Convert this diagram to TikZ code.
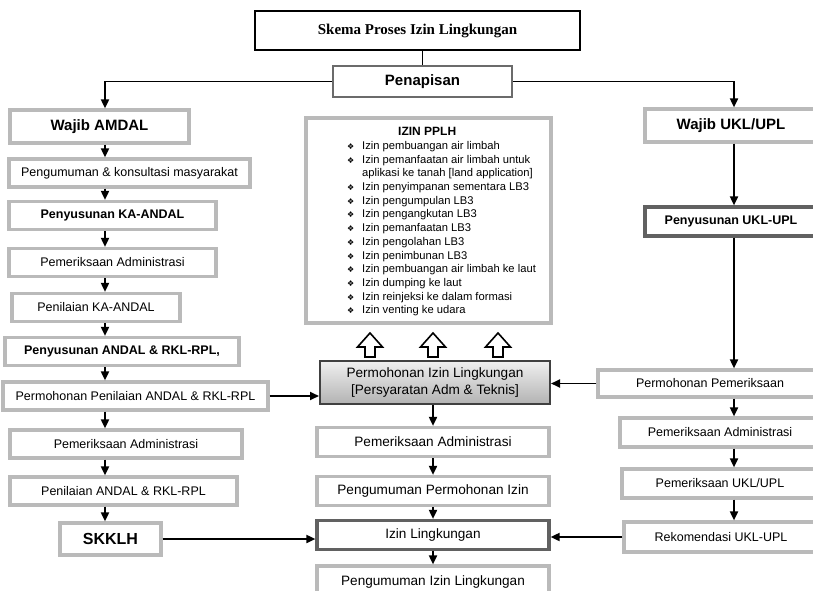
\documentclass[tikz,border=0pt]{standalone}
\usepackage{fontspec}
\setmainfont{Liberation Sans}
\newfontfamily\titlefont{Liberation Serif}
\newfontfamily\symfont{DejaVu Sans}
\usetikzlibrary{arrows.meta}

\tikzset{
  stepbox/.style={draw=black!27, line width=3.2pt, fill=white, inner sep=0pt,
    font=\fontsize{12.5}{15}\selectfont},
  darkbox/.style={stepbox, draw=black!62},
  bigbold/.style={font=\bfseries\fontsize{15}{18}\selectfont},
  flow/.style={line width=1.8pt, -{Triangle[length=9pt,width=8pt]}},
  plain/.style={line width=1.8pt},
  blockup/.style={draw, fill=white, line width=1.6pt, line join=miter},
}
\newcommand{\pitem}{\makebox[18pt][l]{\hspace{3pt}{\symfont\fontsize{8}{13.7}\selectfont\char"2756}}}

\begin{document}
\begin{tikzpicture}[x=1pt,y=-1pt]
  \useasboundingbox (0,0) rectangle (813,591);
  \clip (0,0) rectangle (813,591);

  % head of the scheme
  \node[draw, line width=1.3pt, minimum width=325, minimum height=39,
    font=\titlefont\bfseries\fontsize{15}{18}\selectfont] (t) at (417.5,30.5) {Skema Proses Izin Lingkungan};
  \node[stepbox, draw=black!58, line width=2.2pt, bigbold, minimum width=179, minimum height=31] (p) at (422.5,81.5) {Penapisan};

  % AMDAL column
  \begin{scope}[every node/.style={stepbox, minimum height=28}]
    \node[bigbold, minimum width=179, minimum height=33] (l1) at (99.5,126.5) {Wajib AMDAL};
    \node[minimum width=241] (l2) at (129.5,173) {Pengumuman \& konsultasi masyarakat};
    \node[font=\bfseries\fontsize{12.5}{15}\selectfont, minimum width=207] (l3) at (112.5,215.5) {Penyusunan KA-ANDAL};
    \node[minimum width=207] (l4) at (112.5,262.5) {Pemeriksaan Administrasi};
    \node[minimum width=168] (l5) at (96,307.5) {Penilaian KA-ANDAL};
    \node[font=\bfseries\fontsize{12.5}{15}\selectfont, minimum width=234] (l6) at (122,351.5) {Penyusunan ANDAL \& RKL-RPL,};
    \node[minimum width=265] (l7) at (135.5,396) {Permohonan Penilaian ANDAL \& RKL-RPL};
    \node[minimum width=232] (l8) at (126,444) {Pemeriksaan Administrasi};
    \node[minimum width=227] (l9) at (123.5,491) {Penilaian ANDAL \& RKL-RPL};
    \node[font=\bfseries\fontsize{16}{18}\selectfont, minimum width=101, minimum height=32] (l10) at (110.5,539) {SKKLH};
  \end{scope}

  % permit column
  \node[stepbox, minimum width=245, minimum height=205] (pplh) at (428.5,220.5) {};
  \node[anchor=north west, inner sep=0pt, font=\fontsize{11.2}{13.7}\selectfont] (pplhlist) at (344,126) {%
    \begin{tabular}{@{}l@{}l@{}}
      \multicolumn{2}{@{}l@{}}{\hspace{54pt}\bfseries\fontsize{12}{13.7}\selectfont IZIN PPLH}\\
      \pitem & Izin pembuangan air limbah\\
      \pitem & Izin pemanfaatan air limbah untuk\\
             & aplikasi ke tanah [land application]\\
      \pitem & Izin penyimpanan sementara LB3\\
      \pitem & Izin pengumpulan LB3\\
      \pitem & Izin pengangkutan LB3\\
      \pitem & Izin pemanfaatan LB3\\
      \pitem & Izin pengolahan LB3\\
      \pitem & Izin penimbunan LB3\\
      \pitem & Izin pembuangan air limbah ke laut\\
      \pitem & Izin dumping ke laut\\
      \pitem & Izin reinjeksi ke dalam formasi\\
      \pitem & Izin venting ke udara
    \end{tabular}};

  \begin{scope}[every node/.style={stepbox, minimum width=232, minimum height=29, font=\fontsize{13.6}{17}\selectfont}]
    \node[draw=black!75, line width=2pt, top color=black!6, bottom color=black!30,
      minimum width=230, minimum height=43, align=center] (m1) at (435,382.5)
      {Permohonan Izin Lingkungan\\{}[Persyaratan Adm \& Teknis]};
    \node (m2) at (433,442) {Pemeriksaan Administrasi};
    \node (m3) at (433,491) {Pengumuman Permohonan Izin};
    \node[draw=black!62] (m4) at (433,535) {Izin Lingkungan};
    \node[minimum height=32] (m5) at (433,582) {Pengumuman Izin Lingkungan};
  \end{scope}

  % UKL-UPL column
  \begin{scope}[every node/.style={stepbox, minimum height=29}]
    \node[bigbold, minimum width=172, minimum height=33] (r1) at (731,125.5) {Wajib UKL/UPL};
    \node[darkbox, font=\bfseries\fontsize{12.5}{15}\selectfont, minimum width=172] (r2) at (731,221.5) {Penyusunan UKL-UPL};
    \node[minimum width=224, minimum height=27] (r3) at (710,383.5) {Permohonan Pemeriksaan};
    \node[minimum width=200] (r4) at (720,432.5) {Pemeriksaan Administrasi};
    \node[minimum width=196] (r5) at (720,483.5) {Pemeriksaan UKL/UPL};
    \node[minimum width=194, minimum height=30] (r6) at (721,537) {Rekomendasi UKL-UPL};
  \end{scope}

  % arrow axes
  \coordinate (axl) at (105,0);
  \coordinate (axm) at (433,0);
  \coordinate (axr) at (734,0);

  \draw[plain] (t.south -| p) -- (p.north);
  \draw[flow] (p.west) -| (l1.north -| axl);
  \draw[flow] (p.east) -| (r1.north -| axr);

  \begin{scope}[every edge/.style={draw, flow}]
    \path (l1.south -| axl) edge (l2.north -| axl);
    \path (l2.south -| axl) edge (l3.north -| axl);
    \path (l3.south -| axl) edge (l4.north -| axl);
    \path (l4.south -| axl) edge (l5.north -| axl);
    \path (l5.south -| axl) edge (l6.north -| axl);
    \path (l6.south -| axl) edge (l7.north -| axl);
    \path (l7.south -| axl) edge (l8.north -| axl);
    \path (l8.south -| axl) edge (l9.north -| axl);
    \path (l9.south -| axl) edge (l10.north -| axl);

    \path (m1.south -| axm) edge (m2.north -| axm);
    \path (m2.south -| axm) edge (m3.north -| axm);
    \path (m3.south -| axm) edge (m4.north -| axm);
    \path (m4.south -| axm) edge (m5.north -| axm);

    \path (r1.south -| axr) edge (r2.north -| axr);
    \path (r2.south -| axr) edge (r3.north -| axr);
    \path (r3.south -| axr) edge (r4.north -| axr);
    \path (r4.south -| axr) edge (r5.north -| axr);
    \path (r5.south -| axr) edge (r6.north -| axr);

    \path (l7.east) edge (l7.east -| m1.west);
    \path (r3.west) edge (r3.west -| m1.east);
    \path (l10.east) edge (l10.east -| m4.west);
    \path (r6.west) edge (r6.west -| m4.east);
  \end{scope}

  % hollow arrows up to the PPLH list
  \foreach \ux in {370,433,498}
    \draw[blockup] (\ux-5,357) -- (\ux+5,357) -- (\ux+5,347) -- (\ux+12.5,347)
      -- (\ux,333) -- (\ux-12.5,347) -- (\ux-5,347) -- cycle;

\end{tikzpicture}
\end{document}
